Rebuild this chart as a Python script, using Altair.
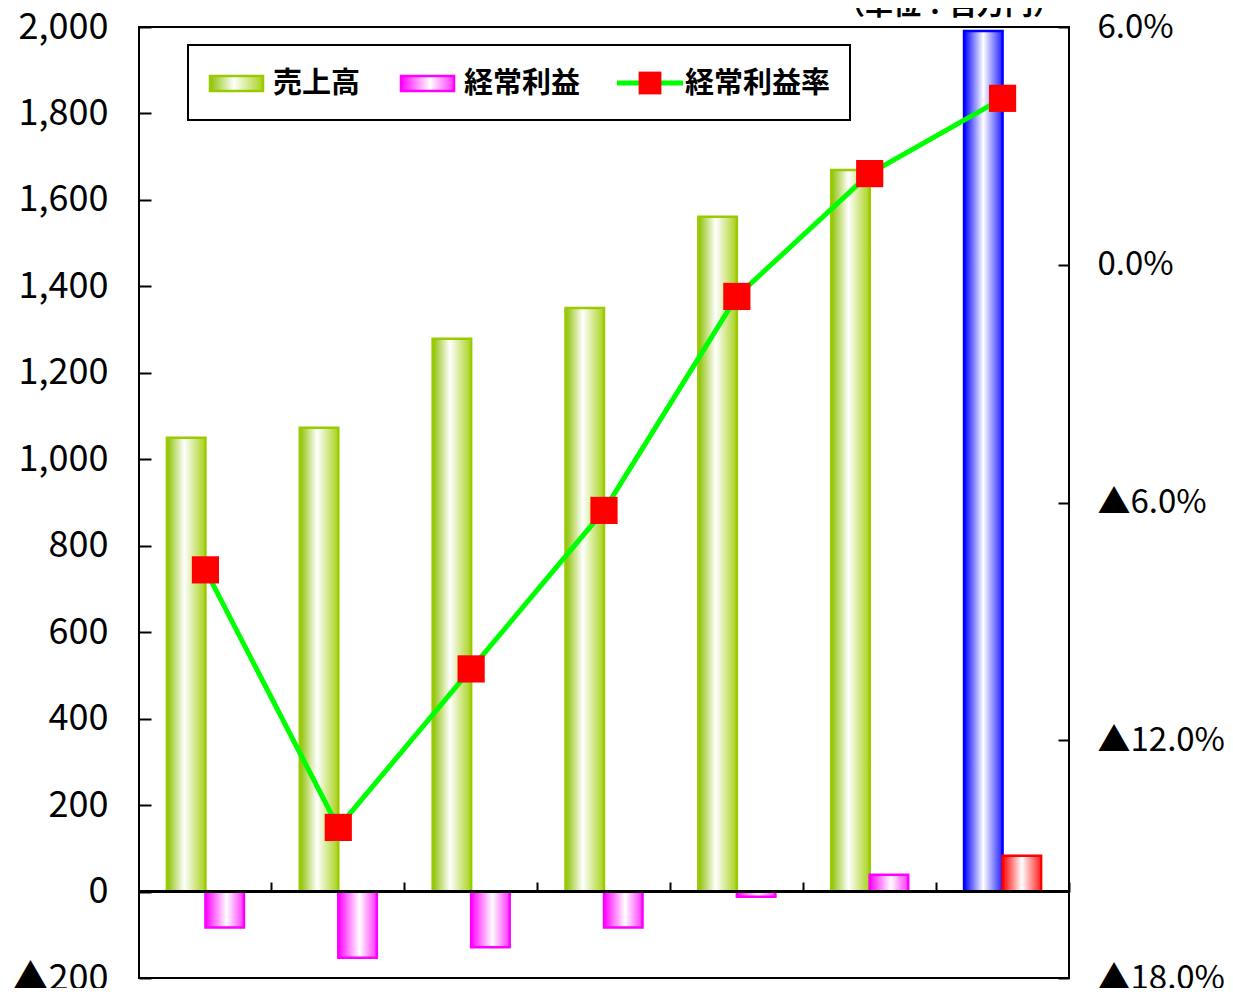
import altair as alt
import pandas as pd

# ---- data ----
categories = ["1", "2", "3", "4", "5", "6", "7"]
sales = [1050, 1073, 1279, 1350, 1561, 1669, 1991]          # 売上高 (百万円)
profit = [-83, -153, -129, -83, -12, 39, 83]                # 経常利益 (百万円)
margin = [-7.7, -14.2, -10.2, -6.2, -0.8, 2.3, 4.2]         # 経常利益率 (%)
highlight = [False, False, False, False, False, False, True]  # last period drawn in blue/red

series_names = ["売上高", "経常利益"]
left_ticks = [-200, 0, 200, 400, 600, 800, 1000, 1200, 1400, 1600, 1800, 2000]
right_ticks = [-18, -12, -6, 0, 6]

rows = []
for c, s, p, h in zip(categories, sales, profit, highlight):
    rows.append({"cat": c, "series": "売上高", "value": s, "hl": h})
    rows.append({"cat": c, "series": "経常利益", "value": p, "hl": h})
bars_df = pd.DataFrame(rows)
line_df = pd.DataFrame({"cat": categories, "rate": margin})
one = pd.DataFrame({"k": [0]})

LABEL_FONT = "Noto Sans CJK JP"
JP_FONT = "Noto Sans CJK JP"

PAD_IN = 0.42
PAD_OUT = 0.21
# ticks on the zero line sit at the boundary between categories
TICK_POS = 1 + (PAD_IN / 2) / (1 - PAD_IN)


def grad(edge_l, edge_r, mid=0.5):
    return alt.Gradient(
        gradient="linear",
        stops=[alt.GradientStop(color=edge_l, offset=0),
               alt.GradientStop(color="#ffffff", offset=mid),
               alt.GradientStop(color=edge_r, offset=1)],
        x1=0, x2=1, y1=0, y2=0,
    )


GREEN = grad("#8cc000", "#a8d21a", 0.45)
MAGENTA = grad("#ff00ff", "#ff33ff", 0.55)
BLUE = grad("#0000ff", "#2020ff", 0.5)
RED = grad("#ff0000", "#ff2020", 0.5)

x_enc = alt.X(
    "cat:N",
    sort=categories,
    scale=alt.Scale(domain=categories, paddingInner=PAD_IN, paddingOuter=PAD_OUT),
    axis=alt.Axis(labels=False, domain=False, grid=False, title=None,
                  bandPosition=TICK_POS, tickSize=10, tickWidth=2, tickColor="black",
                  offset=-96),
)
xoff_enc = alt.XOffset("series:N", scale=alt.Scale(domain=series_names, paddingInner=0, paddingOuter=0))
y_left = alt.Y(
    "value:Q",
    scale=alt.Scale(domain=[-200, 2000], nice=False, zero=False),
    axis=alt.Axis(values=left_ticks, title=None, grid=False, domain=False,
                  orient="left", offset=-12, tickSize=12, tickWidth=2, tickColor="black",
                  labelPadding=31, labelFont=LABEL_FONT, labelFontSize=36,
                  labelColor="black", labelFlush=False, labelOverlap=False,
                  labelExpr="datum.value < 0 ? '▲' + format(-datum.value, ',') : format(datum.value, ',')"),
)

base = alt.Chart(bars_df)


def bar_layer(series, hl, fill, stroke):
    return base.transform_filter(
        (alt.datum.series == series) & (alt.datum.hl == hl)
    ).mark_bar(fill=fill, stroke=stroke, strokeWidth=2.5).encode(
        x=x_enc, xOffset=xoff_enc, y=y_left
    )


bars = alt.layer(
    bar_layer("売上高", False, GREEN, "#99cc00"),
    bar_layer("売上高", True, BLUE, "#0000ff"),
    bar_layer("経常利益", False, MAGENTA, "#ff00ff"),
    bar_layer("経常利益", True, RED, "#ff0000"),
    base.mark_rule(color="black", strokeWidth=2.5).encode(y=alt.datum(0)),
)

y_right = alt.Y(
    "rate:Q",
    scale=alt.Scale(domain=[-18, 6], nice=False, zero=False),
    axis=alt.Axis(values=right_ticks, title=None, grid=False, domain=False,
                  orient="right", offset=-11, tickSize=11, tickWidth=2, tickColor="black",
                  labelPadding=28, labelFont=LABEL_FONT, labelFontSize=33,
                  labelColor="black", labelFlush=False, labelOverlap=False,
                  labelExpr="datum.value < 0 ? '▲' + format(-datum.value, '.1f') + '%' : format(datum.value, '.1f') + '%'"),
)

lbase = alt.Chart(line_df)
line = alt.layer(
    lbase.mark_line(color="#00ff00", strokeWidth=5).encode(x=x_enc, y=y_right),
    lbase.mark_point(shape="square", filled=True, color="#ff0000", size=740, opacity=1).encode(x=x_enc, y=y_right),
)

# ---- legend (drawn box) ----
ob = alt.Chart(one)
legend = alt.layer(
    ob.mark_rect(fill="white", stroke="black", strokeWidth=2).encode(
        x=alt.value(49), x2=alt.value(711), y=alt.value(18), y2=alt.value(93)),
    ob.mark_rect(fill=GREEN, stroke="#99cc00", strokeWidth=2.5).encode(
        x=alt.value(71), x2=alt.value(124), y=alt.value(49), y2=alt.value(64)),
    ob.mark_rect(fill=MAGENTA, stroke="#ff00ff", strokeWidth=2.5).encode(
        x=alt.value(262), x2=alt.value(315), y=alt.value(49), y2=alt.value(64)),
    ob.mark_rule(color="#00ff00", strokeWidth=5).encode(
        x=alt.value(478), x2=alt.value(544), y=alt.value(56)),
    ob.mark_point(shape="square", filled=True, color="#ff0000", size=520, opacity=1).encode(
        x=alt.value(511), y=alt.value(56)),
    ob.mark_text(text="売上高", font=JP_FONT, fontWeight="bold", fontSize=29, align="left",
                 baseline="middle", color="black").encode(x=alt.value(134), y=alt.value(57)),
    ob.mark_text(text="経常利益", font=JP_FONT, fontWeight="bold", fontSize=29, align="left",
                 baseline="middle", color="black").encode(x=alt.value(325), y=alt.value(57)),
    ob.mark_text(text="経常利益率", font=JP_FONT, fontWeight="bold", fontSize=29, align="left",
                 baseline="middle", color="black").encode(x=alt.value(546), y=alt.value(57)),
    ob.mark_text(text="（単位：百万円）", font=JP_FONT, fontWeight="bold", fontSize=28, align="center",
                 baseline="bottom", color="black").encode(x=alt.value(810), y=alt.value(-6)),
)

chart = alt.layer(bars, line, legend).resolve_scale(y="independent").properties(
    width=930,
    height=951,
    autosize=alt.AutoSizeParams(type="none"),
    padding={"left": 131, "top": 19, "right": 156, "bottom": 10},
    background="white",
).configure_view(stroke="black", strokeWidth=2)

chart.save("out.html", embed_options={"renderer": "svg", "actions": False})
